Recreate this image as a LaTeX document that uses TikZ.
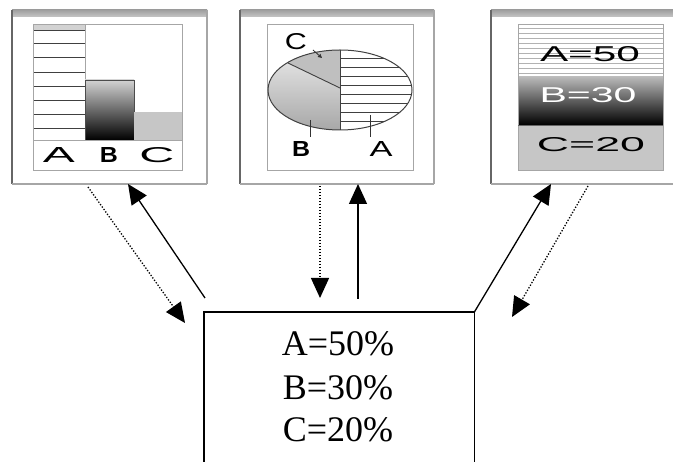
\documentclass[tikz,border=0pt]{standalone}
\usepackage{fontspec}
\setmainfont{Liberation Serif}
\newfontfamily\panelfont{Liberation Sans}
\usetikzlibrary{arrows.meta}
\begin{document}
\begin{tikzpicture}[x=1pt,y=-1pt,
  conn/.style={line width=1.3pt,-{Triangle[length=20pt,width=18pt]}},
  dotconn/.style={line width=1.3pt,dash pattern=on 1.3pt off 1.7pt,-{Triangle[length=20pt,width=18pt]}},
  panelbox/.style={draw=gray!60,line width=1pt,inner sep=0pt,anchor=north west},
  inner/.style={draw=gray!70,line width=0.9pt},
  plbl/.style={inner sep=0pt,anchor=base},
  hatch/.style={draw=black!75,line width=0.9pt},
  res/.style={font=\fontsize{36}{44}\selectfont,inner sep=0pt,anchor=base},
]
\useasboundingbox (0,0) rectangle (673,462);

% ---------- panels (frames) ----------
\node[panelbox,minimum width=194pt,minimum height=173pt] (p1) at (12,10) {};
\node[panelbox,minimum width=193pt,minimum height=173pt] (p2) at (240,10) {};
\node[panelbox,minimum width=190pt,minimum height=173pt] (p3) at (491,10) {};
\foreach \p in {p1,p2,p3}{
  \shade[top color=gray!75,bottom color=gray!45] (\p.north west) rectangle ([yshift=-7pt]\p.north east);
  \draw[gray!80!black,line width=1.2pt] (\p.north west) -- (\p.south west);
  \draw[gray!70,line width=1.2pt] (\p.north east) -- (\p.south east);
  \draw[gray!70,line width=1.2pt] (\p.south west) -- (\p.south east);
}

% ---------- panel 1: bar chart ----------
\fill[gray!35] (33,24) rectangle (85,30);
\foreach \y in {30,43,57,72,86,100,114,128} \draw[hatch] (33,\y) -- (85,\y);
\draw[inner] (33,24) rectangle (85,140);
\shade[top color=gray!35,bottom color=black] (85,80) rectangle (134,140);
\draw[black!70,line width=0.9pt] (85,140) -- (85,80) -- (134,80) -- (134,140);
\fill[gray!45] (134,112) rectangle (182,140);
\draw[inner] (33,24) rectangle (182,170);
\draw[inner] (33,140) -- (182,140);
\node[plbl] (l1a) at (59,163) {\resizebox{32pt}{15pt}{\panelfont A}};
\node[plbl] (l1b) at (109,163) {\resizebox{18pt}{15pt}{\panelfont\bfseries B}};
\node[plbl] (l1c) at (157,163) {\resizebox{35pt}{15pt}{\panelfont C}};

% ---------- panel 2: pie chart ----------
\draw[inner] (267,24) rectangle (413,170);
\begin{scope}
  \clip (340,90) ellipse [x radius=72pt, y radius=40pt];
  \shade[top color=gray!15,bottom color=gray!70] (262,48) rectangle (340,132);
  \fill[gray!50] (340,88) -- (270,55) -- (270,45) -- (340,45) -- cycle;
  \foreach \y in {58,67,76,85,94,103,112,121} \draw[hatch] (340,\y) -- (415,\y);
\end{scope}
\draw[black!75,line width=1pt] (340,90) ellipse [x radius=72pt, y radius=40pt];
\draw[black!75,line width=1pt] (340,50) -- (340,130);
\draw[black!75,line width=0.9pt] (340,88) -- (288,63);
\draw[black!80,line width=1pt] (310,120) -- (310,137);
\draw[black!80,line width=1pt] (370,115) -- (370,137);
\draw[black!80,line width=0.8pt,-{Triangle[length=4pt,width=4pt]}] (313,50) -- (322,58);
\node[plbl] (l2c) at (296,50) {\resizebox{22pt}{16pt}{\panelfont C}};
\node[plbl] (l2b) at (301,157) {\resizebox{18pt}{15pt}{\panelfont\bfseries B}};
\node[plbl] (l2a) at (381,157) {\resizebox{23pt}{15pt}{\panelfont A}};

% ---------- panel 3: stacked bar ----------
\foreach \y in {28,33,...,73} \draw[gray!60,line width=0.9pt] (518,\y) -- (663,\y);
\shade[top color=gray!55,bottom color=black] (518,77) rectangle (663,125);
\fill[gray!45] (518,125) rectangle (663,170);
\draw[inner] (518,24) rectangle (663,170);
\draw[black!60,line width=0.8pt] (518,125) -- (663,125);
\node[plbl] (l3a) at (590,62) {\resizebox{100pt}{15pt}{\panelfont A=50}};
\node[plbl,text=white] (l3b) at (588,103) {\resizebox{97pt}{15pt}{\panelfont B=30}};
\node[plbl] (l3c) at (591,152) {\resizebox{108pt}{14pt}{\panelfont C=20}};

% ---------- result box ----------
\node[inner sep=0pt,minimum width=270pt,minimum height=160pt,anchor=north west] (box) at (204,312) {};
\draw[line width=1.3pt] (box.south west) -- (box.north west) -- (box.north east) -- (box.south east);
\node[res] (t1) at (338,356) {A=50\%};
\node[res] (t2) at (338,400) {B=30\%};
\node[res] (t3) at (338,442) {C=20\%};

% ---------- connectors ----------
\coordinate (ld1) at (88,187);   \coordinate (ld2) at (185,323);
\coordinate (ls1) at (205,298);  \coordinate (ls2) at (128,184);
\coordinate (md1) at (320,186);  \coordinate (md2) at (320,298);
\coordinate (ms1) at (358,299);  \coordinate (ms2) at (358,184);
\coordinate (rs2) at (551,184);
\coordinate (rd1) at (588,186);  \coordinate (rd2) at (512,317);
\draw[dotconn] (ld1) -- (ld2);
\draw[conn] (ls1) -- (ls2);
\draw[dotconn] (md1) -- (md2);
\draw[conn] (ms1) -- (ms2);
\draw[conn] (box.north east) -- (rs2);
\draw[dotconn] (rd1) -- (rd2);
\end{tikzpicture}
\end{document}
